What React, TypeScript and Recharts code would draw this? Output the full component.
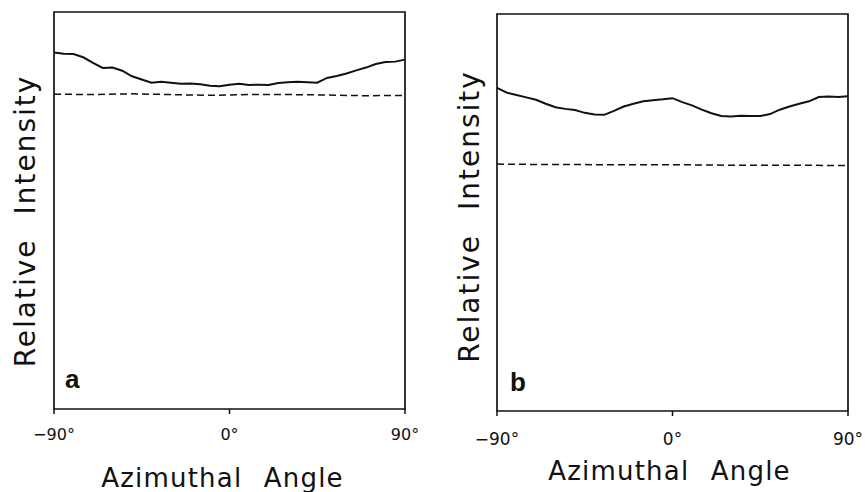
import { LineChart, Line, XAxis, YAxis, ReferenceArea } from "recharts";

// azimuthal angle samples (deg) for the measured curves
const angles = [
  -90, -85, -80, -75, -70, -65, -60, -55, -50, -45, -40, -35, -30, -25, -20, -15, -10, -5, 0,
  5, 10, 15, 20, 25, 30, 35, 40, 45, 50, 55, 60, 65, 70, 75, 80, 85, 90,
];

// panel a: measured intensity (solid)
const intensityA = [
  89.8, 89.5, 89.4, 88.6, 87.2, 85.9, 86.0, 85.2, 83.8, 83.0, 82.2, 82.4, 82.2, 81.9, 82.0, 81.8,
  81.4, 81.3, 81.7, 81.9, 81.6, 81.7, 81.6, 82.1, 82.3, 82.4, 82.3, 82.2, 83.4, 83.9, 84.5, 85.3,
  86.0, 86.9, 87.4, 87.5, 88.0,
];

// panel b: measured intensity (solid)
const intensityB = [
  81.4, 80.2, 79.6, 79.0, 78.4, 77.4, 76.5, 76.1, 75.8, 75.1, 74.7, 74.6, 75.6, 76.7, 77.4, 78.0,
  78.3, 78.5, 78.8, 77.8, 77.0, 75.9, 75.0, 74.3, 74.2, 74.4, 74.3, 74.3, 74.8, 75.9, 76.7, 77.4,
  78.0, 79.1, 79.2, 79.1, 79.3,
];

// dashed reference levels
const baseAngles = [-90, -70, -50, -30, -10, 10, 30, 50, 70, 90];
const baselineA = [79.3, 79.2, 79.4, 79.2, 79.0, 79.2, 79.2, 79.1, 78.9, 79.0];
const baselineB = [62.2, 62.1, 62.1, 62.0, 62.0, 62.0, 61.9, 61.9, 61.9, 61.8];

const xTicks = [-90, 0, 90];
const panelLetters = ["a", "b"];
const xTitle = "Azimuthal Angle";
const yTitle = "Relative Intensity";

const FONT = '"Liberation Sans", Arial, Helvetica, sans-serif';
const TITLE_FONT = '"DejaVu Sans", "Liberation Sans", sans-serif';
const INK = "#111";

const fmtAngle = (v: number) => (v < 0 ? `\u2212${Math.abs(v)}°` : `${v}°`);

const panels = [
  {
    solid: angles.map((angle, i) => ({ angle, value: intensityA[i] })),
    dashed: baseAngles.map((angle, i) => ({ angle, value: baselineA[i] })),
    left: 0,
    width: 432,
    margin: { top: 12, right: 27, bottom: 0, left: 54 },
    axisH: 83,
    tickGap: 23,
    tickFont: 16,
    xTitle: { dx: -7, dy: 78 },
    yTitle: { x: 35, dy: 10.5 },
    letter: { dx: 11, dy: -21 },
  },
  {
    solid: angles.map((angle, i) => ({ angle, value: intensityB[i] })),
    dashed: baseAngles.map((angle, i) => ({ angle, value: baselineB[i] })),
    left: 432,
    width: 433,
    margin: { top: 14, right: 17, bottom: 0, left: 65 },
    axisH: 81,
    tickGap: 26,
    tickFont: 17,
    xTitle: { dx: -3, dy: 69 },
    yTitle: { x: 47, dy: 4 },
    letter: { dx: 13, dy: -20 },
  },
];

function Panel({ p, letter }: { p: (typeof panels)[number]; letter: string }) {
  return (
    <div style={{ position: "absolute", left: p.left, top: 0 }}>
      <LineChart width={p.width} height={492} margin={p.margin}>
        <XAxis
          type="number"
          dataKey="angle"
          domain={[-90, 90]}
          ticks={xTicks}
          axisLine={false}
          tickSize={5}
          tickLine={{ stroke: INK, strokeWidth: 1.5 }}
          tick={(props: any) => (
            <text
              x={props.x}
              y={props.y - 5 + p.tickGap}
              textAnchor="middle"
              dominantBaseline="central"
              fill={INK}
              style={{ fontSize: p.tickFont, fontFamily: TITLE_FONT }}
            >
              {fmtAngle(props.payload.value)}
            </text>
          )}
          height={p.axisH}
          label={{
            content: (props: any) => {
              const vb = props.viewBox;
              return (
                <text
                  x={vb.x + vb.width / 2 + p.xTitle.dx}
                  y={vb.y + p.xTitle.dy}
                  textAnchor="middle"
                  fill={INK}
                  fontFamily={TITLE_FONT}
                  fontSize={26}
                  style={{ letterSpacing: "1.2px", wordSpacing: "12px" }}
                >
                  {xTitle}
                </text>
              );
            },
          }}
        />
        <YAxis type="number" domain={[0, 100]} hide />
        <ReferenceArea
          x1={-90}
          x2={90}
          y1={0}
          y2={100}
          fill="none"
          stroke={INK}
          strokeWidth={1.7}
          ifOverflow="visible"
          label={{
            content: (props: any) => {
              const vb = props.viewBox;
              const yx = p.yTitle.x;
              const yy = vb.y + vb.height / 2 + p.yTitle.dy;
              return (
                <g>
                  <text
                    x={vb.x + p.letter.dx}
                    y={vb.y + vb.height + p.letter.dy}
                    fill={INK}
                    fontFamily={FONT}
                    fontWeight="bold"
                    fontSize={26}
                  >
                    {letter}
                  </text>
                  <text
                    x={yx}
                    y={yy}
                    transform={`rotate(-90, ${yx}, ${yy})`}
                    textAnchor="middle"
                    fill={INK}
                    fontFamily={TITLE_FONT}
                    fontSize={28}
                    style={{ letterSpacing: "2px", wordSpacing: "13px" }}
                  >
                    {yTitle}
                  </text>
                </g>
              );
            },
          }}
        />
        <Line
          data={p.dashed}
          dataKey="value"
          type="linear"
          stroke={INK}
          strokeWidth={1.5}
          strokeDasharray="7 4"
          dot={false}
          isAnimationActive={false}
        />
        <Line
          data={p.solid}
          dataKey="value"
          type="linear"
          stroke={INK}
          strokeWidth={2}
          dot={false}
          isAnimationActive={false}
        />
      </LineChart>
    </div>
  );
}

export default function App() {
  return (
    <div style={{ position: "absolute", left: 0, top: 0, width: 865, height: 492, background: "#fff" }}>
      {panels.map((p, i) => (
        <Panel key={i} p={p} letter={panelLetters[i]} />
      ))}
    </div>
  );
}
